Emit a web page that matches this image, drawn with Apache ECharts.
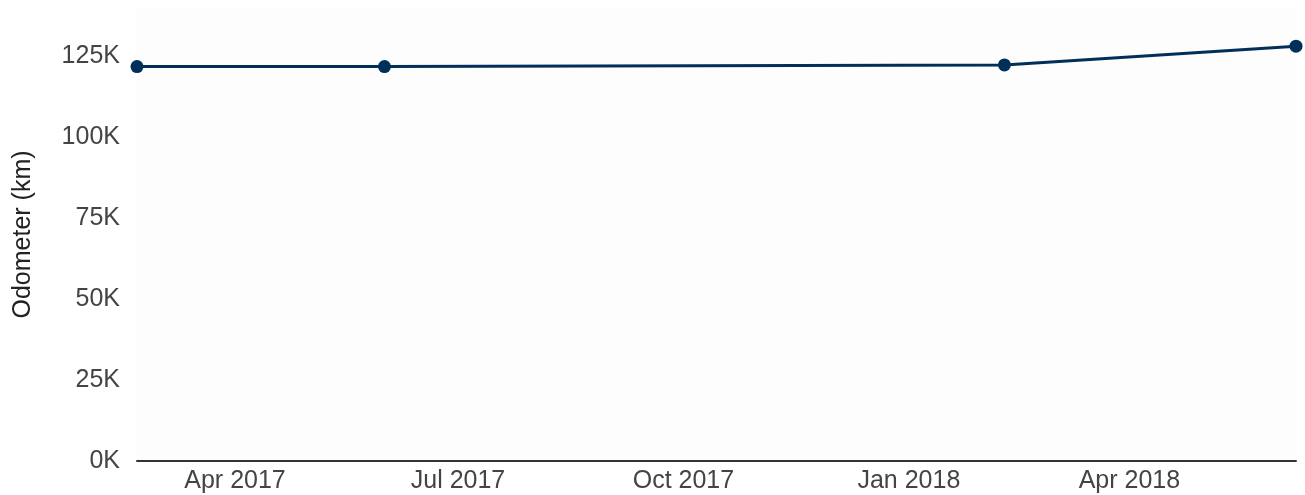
<!DOCTYPE html>
<html>
<head>
<meta charset="utf-8">
<script src="https://cdn.jsdelivr.net/npm/echarts@6/dist/echarts.min.js"></script>
<style>
html,body{margin:0;padding:0;background:#fff;}
#chart{width:1305px;height:495px;}
</style>
</head>
<body>
<div id="chart"></div>
<script>
const dates = ['2017-02-20', '2017-06-01', '2018-02-09', '2018-06-08'];
const odometer = [121900, 121900, 122400, 128200];
const xTickDates = ['2017-04-01', '2017-07-01', '2017-10-01', '2018-01-01', '2018-04-01'];
const monthNames = ['Jan','Feb','Mar','Apr','May','Jun','Jul','Aug','Sep','Oct','Nov','Dec'];

const ts = d => Date.UTC(+d.slice(0,4), +d.slice(5,7) - 1, +d.slice(8,10));

const chart = echarts.init(document.getElementById('chart'), null, {renderer: 'canvas'});
const textColor = '#444444';
const font = 'Liberation Sans, Arial, sans-serif';

chart.setOption({
  animation: false,
  grid: {
    left: 137, right: 9, top: 8, bottom: 34,
    show: true, backgroundColor: '#fdfdfd', borderWidth: 0
  },
  xAxis: {
    type: 'value',
    min: ts(dates[0]),
    max: ts(dates[dates.length - 1]),
    axisLine: {show: true, onZero: false, lineStyle: {color: '#333333', width: 2}},
    axisTick: {show: false},
    splitLine: {show: false},
    axisLabel: {
      customValues: xTickDates.map(ts),
      color: textColor, fontSize: 25, fontFamily: font, margin: 8,
      formatter: function (v) {
        const d = new Date(v);
        return monthNames[d.getUTCMonth()] + ' ' + d.getUTCFullYear();
      }
    }
  },
  yAxis: {
    type: 'value',
    min: 0, max: 140000, interval: 25000,
    name: 'Odometer (km)',
    nameLocation: 'middle',
    nameGap: 101,
    nameTextStyle: {color: '#222222', fontSize: 25, fontFamily: font},
    axisLine: {show: false},
    axisTick: {show: false},
    splitLine: {show: false},
    axisLabel: {
      color: textColor, fontSize: 25, fontFamily: font, margin: 17,
      showMaxLabel: false,
      formatter: function (v) { return (v / 1000) + 'K'; }
    }
  },
  series: [{
    type: 'line',
    data: dates.map((d, i) => [ts(d), odometer[i]]),
    symbol: 'circle',
    symbolSize: 13,
    lineStyle: {color: '#00305a', width: 3},
    itemStyle: {color: '#00305a'}
  }]
});
</script>
</body>
</html>
